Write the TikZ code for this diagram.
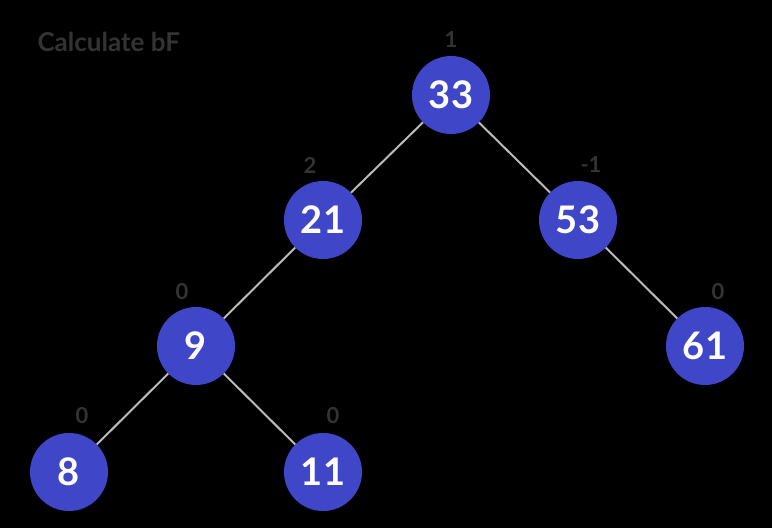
\documentclass[tikz,border=0pt]{standalone}
\usepackage{fontspec}
\setmainfont{Lato}
\definecolor{nodeblue}{HTML}{3F47C8}
\definecolor{txtgray}{HTML}{333333}
\definecolor{edgegray}{HTML}{BBBBBB}
\begin{document}
\begin{tikzpicture}[x=1pt,y=-1pt,
  bnode/.style={circle,fill=nodeblue,draw=none,minimum size=78pt,inner sep=0pt,text=white,font=\fontsize{38}{40}\selectfont\bfseries},
  bflab/.style={text=txtgray,font=\fontsize{22}{24}\selectfont\bfseries,inner sep=0pt},
  edge/.style={edgegray,line width=2pt}]
\fill[black] (0,0) rectangle (772,528);
\useasboundingbox (0,0) rectangle (772,528);
\node[anchor=west,text=txtgray,font=\fontsize{26}{28}\selectfont\bfseries] (title) at (34,42) {Calculate bF};
\node[bnode] (n33) at (451,95) {33};
\node[bnode] (n21) at (323,220) {21};
\node[bnode] (n53) at (578,220) {53};
\node[bnode] (n9) at (196,346) {9};
\node[bnode] (n61) at (705,346) {61};
\node[bnode] (n8) at (69,472) {8};
\node[bnode] (n11) at (323,472) {11};
\begin{scope}[on background layer/.style={}]
\end{scope}
\draw[edge] (n33) -- (n21);
\draw[edge] (n33) -- (n53);
\draw[edge] (n21) -- (n9);
\draw[edge] (n53) -- (n61);
\draw[edge] (n9) -- (n8);
\draw[edge] (n9) -- (n11);
\node[bflab] (l33) at (451,40) {1};
\node[bflab] (l21) at (310,165) {2};
\node[bflab] (l53) at (591,165) {-1};
\node[bflab] (l9) at (182,292) {0};
\node[bflab] (l61) at (718,292) {0};
\node[bflab] (l8) at (82,416) {0};
\node[bflab] (l11) at (333,416) {0};
\end{tikzpicture}
\end{document}
